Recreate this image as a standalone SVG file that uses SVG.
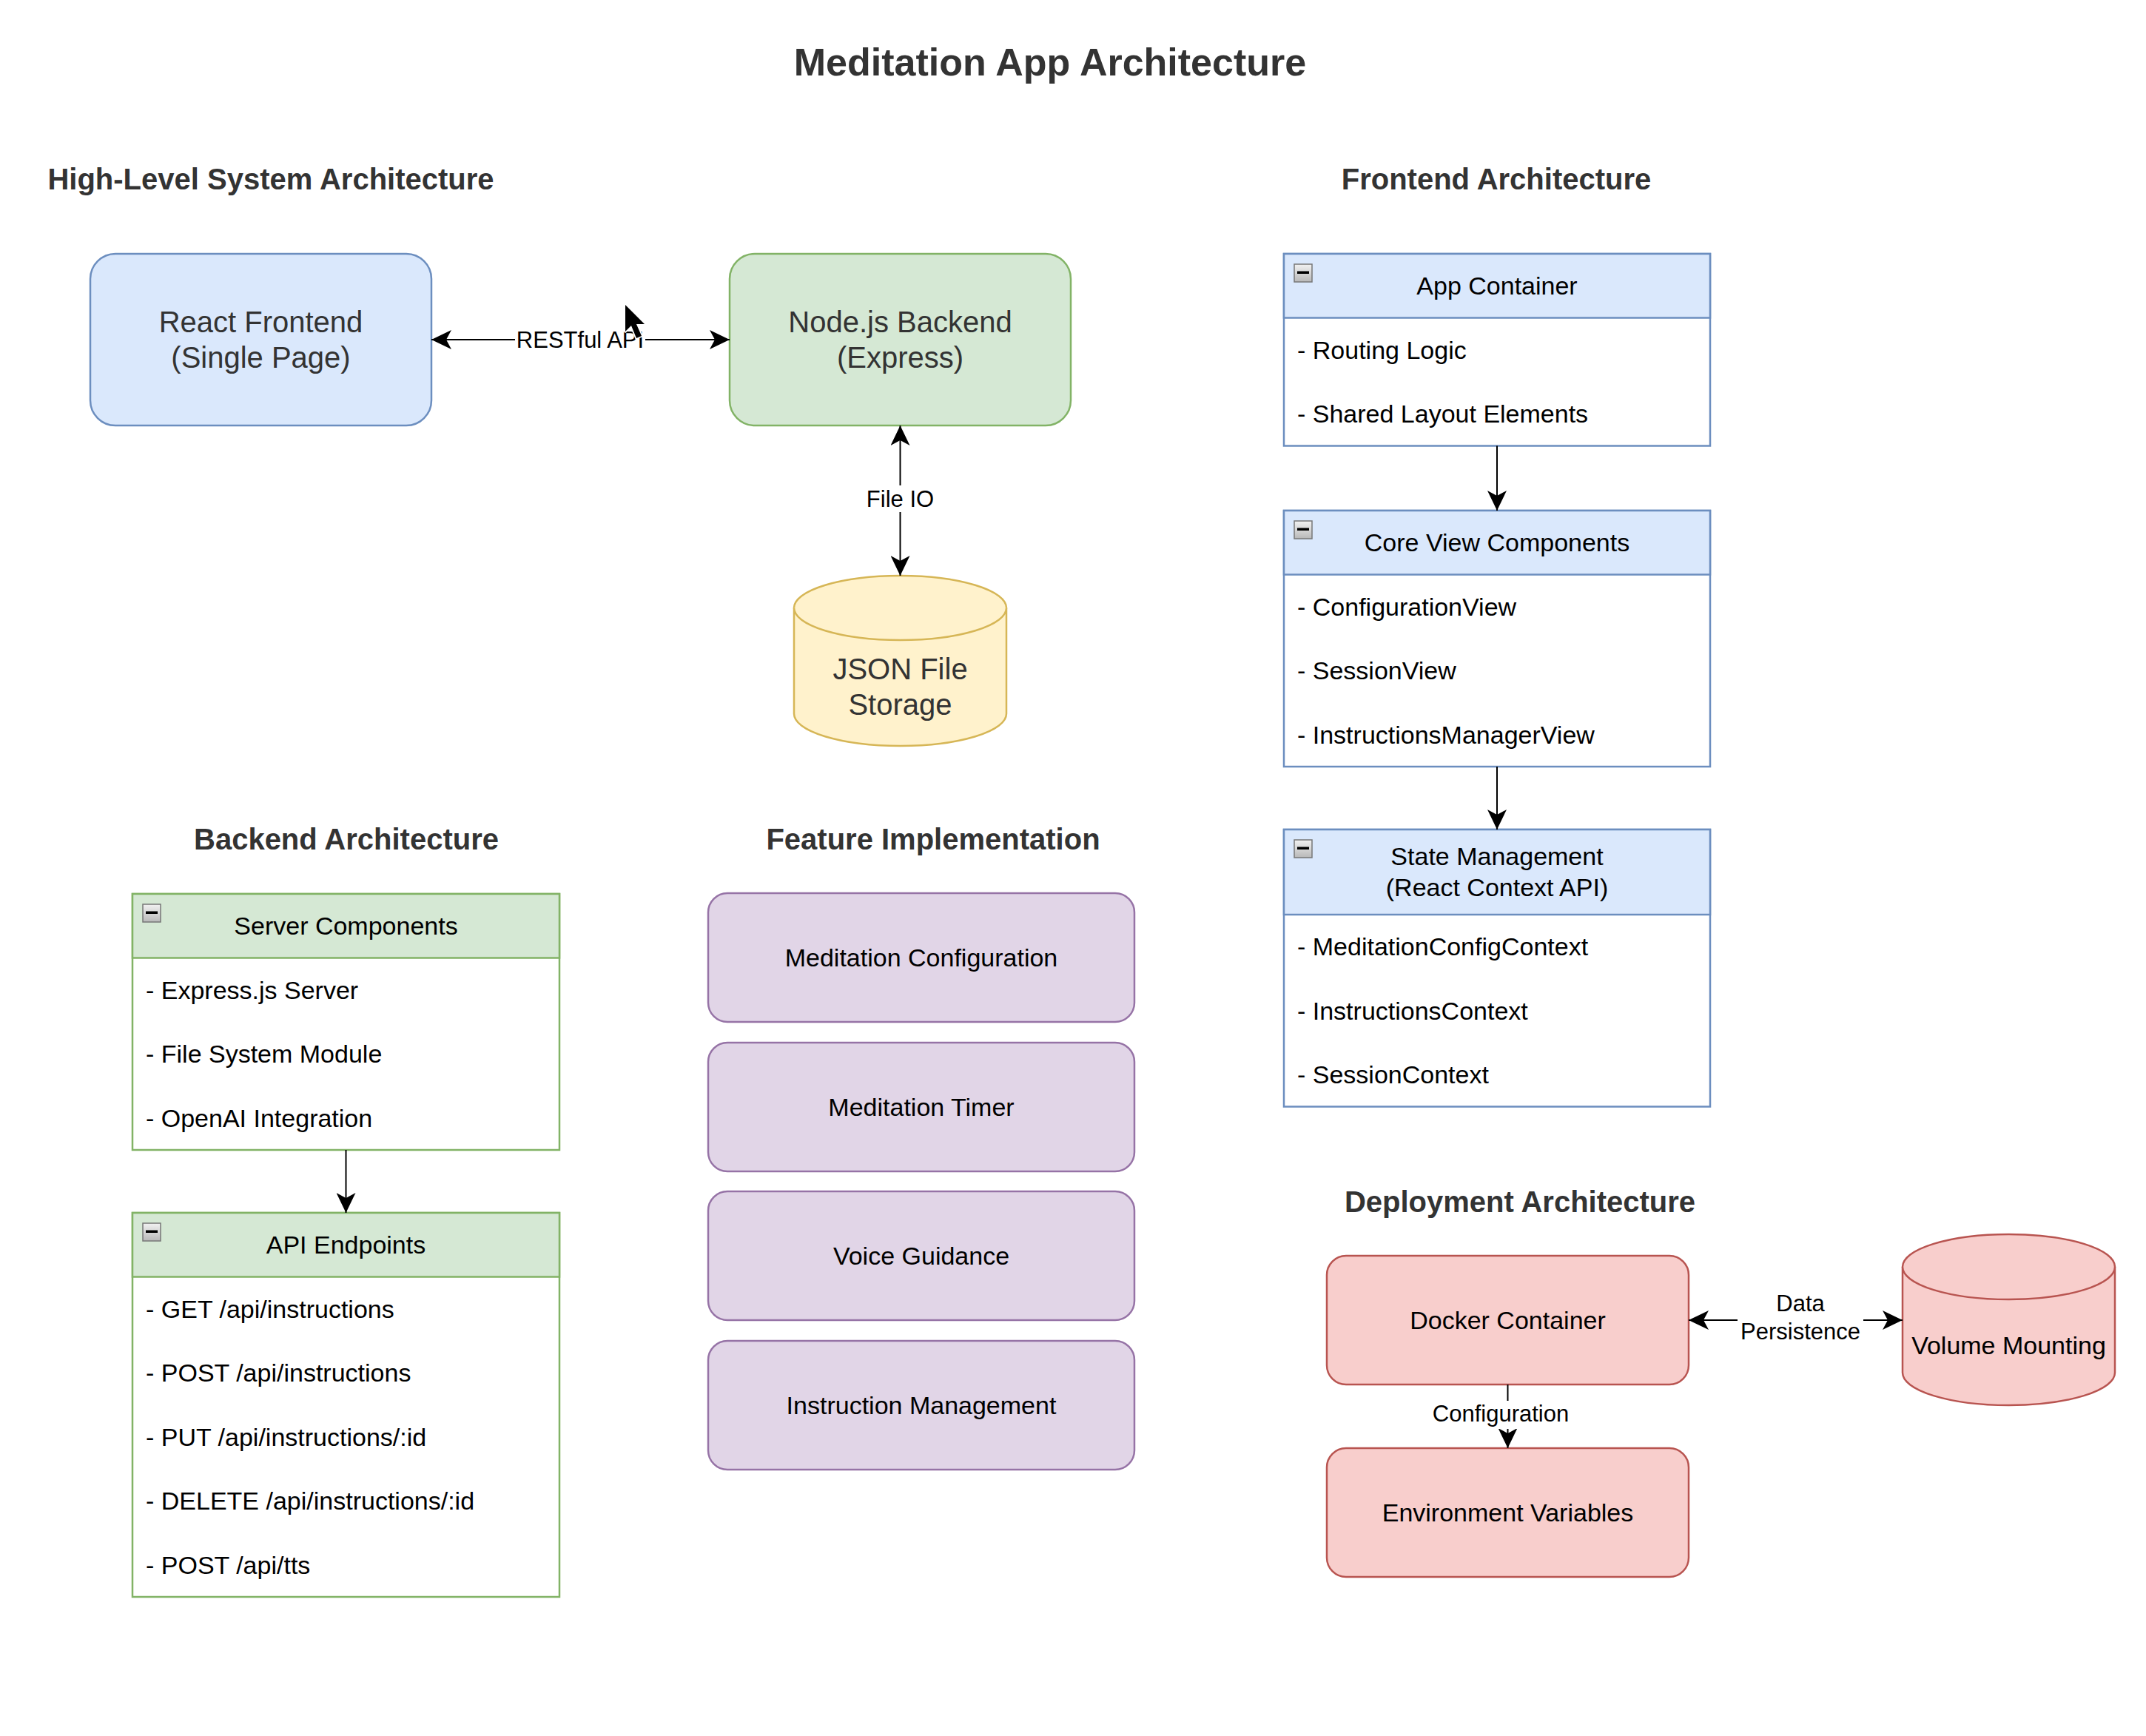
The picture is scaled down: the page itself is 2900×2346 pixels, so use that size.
<svg xmlns="http://www.w3.org/2000/svg" width="2900" height="2346" viewBox="0 0 2900 2346">
<style>
text{font-family:"Liberation Sans",Arial,Helvetica,sans-serif}
.title{font-size:52px;font-weight:bold;fill:#333}
.h{font-size:40px;font-weight:bold;fill:#333}
.big{font-size:40px;fill:#333}
.n{font-size:34px;fill:#000}
.lbl{font-size:31px;fill:#000}
.c{text-anchor:middle}
.edge{stroke:#000;stroke-width:2;fill:none}
.bg{fill:#fff}
.blue{fill:#dae8fc;stroke:#6c8ebf;stroke-width:2.5}
.green{fill:#d5e8d4;stroke:#82b366;stroke-width:2.5}
.yellow{fill:#fff2cc;stroke:#d6b656;stroke-width:2.5}
.purple{fill:#e1d5e7;stroke:#9673a6;stroke-width:2.5}
.red{fill:#f8cecc;stroke:#b85450;stroke-width:2.5}
.bluebody{fill:#fff;stroke:#6c8ebf;stroke-width:2.5}
.greenbody{fill:#fff;stroke:#82b366;stroke-width:2.5}
</style>
<defs>
<marker id="arr" viewBox="0 0 28 26" refX="27" refY="13" markerWidth="28" markerHeight="26" markerUnits="userSpaceOnUse" orient="auto-start-reverse">
<path d="M0,0 L27,13 L0,26 L7,13 Z" fill="#000"/>
</marker>
<linearGradient id="btn" x1="0" y1="0" x2="0" y2="1">
<stop offset="0" stop-color="#f2f2f2"/>
<stop offset="1" stop-color="#b8b8b8"/>
</linearGradient>
<g id="minus">
<rect x="0" y="0" width="24" height="24" fill="url(#btn)" stroke="#777" stroke-width="1.5"/>
<rect x="4" y="9.5" width="16" height="3.5" fill="#000"/>
</g>
</defs>
<rect width="2900" height="2346" fill="#fff"/>

<text class="title c" x="1419" y="102">Meditation App Architecture</text>
<text class="h c" x="366" y="256">High-Level System Architecture</text>
<text class="h c" x="2022" y="256">Frontend Architecture</text>
<text class="h c" x="468" y="1148">Backend Architecture</text>
<text class="h c" x="1261" y="1148">Feature Implementation</text>
<text class="h c" x="2054" y="1638">Deployment Architecture</text>

<g id="react-frontend">
<rect class="blue" x="122" y="343" width="461" height="232" rx="34" ry="34"/>
<text class="big c" x="352.5" y="449">React Frontend</text>
<text class="big c" x="352.5" y="497">(Single Page)</text>
</g>
<g id="node-backend">
<rect class="green" x="986" y="343" width="461" height="232" rx="34" ry="34"/>
<text class="big c" x="1216.5" y="449">Node.js Backend</text>
<text class="big c" x="1216.5" y="497">(Express)</text>
</g>
<g id="json-storage">
<path class="yellow" d="M1073,821.5 A143.5,43.5 0 0 1 1360,821.5 L1360,964.5 A143.5,43.5 0 0 1 1073,964.5 Z"/>
<path class="yellow" d="M1073,821.5 A143.5,43.5 0 0 0 1360,821.5" fill="none"/>
<text class="big c" x="1216.5" y="918">JSON File</text>
<text class="big c" x="1216.5" y="966">Storage</text>
</g>

<g id="app-container">
<rect class="bluebody" x="1735" y="343" width="576" height="259.5"/>
<rect class="blue" x="1735" y="343" width="576" height="86.5"/>
<use href="#minus" x="1749" y="357"/>
<text class="n c" x="2023" y="398">App Container</text>
<text class="n" x="1753" y="485">- Routing Logic</text>
<text class="n" x="1753" y="571">- Shared Layout Elements</text>
</g>
<g id="core-view-components">
<rect class="bluebody" x="1735" y="690" width="576" height="346"/>
<rect class="blue" x="1735" y="690" width="576" height="86.5"/>
<use href="#minus" x="1749" y="704"/>
<text class="n c" x="2023" y="745">Core View Components</text>
<text class="n" x="1753" y="832">- ConfigurationView</text>
<text class="n" x="1753" y="918">- SessionView</text>
<text class="n" x="1753" y="1005">- InstructionsManagerView</text>
</g>
<g id="state-management">
<rect class="bluebody" x="1735" y="1121" width="576" height="374.5"/>
<rect class="blue" x="1735" y="1121" width="576" height="115"/>
<use href="#minus" x="1749" y="1135"/>
<text class="n c" x="2023" y="1169">State Management</text>
<text class="n c" x="2023" y="1211">(React Context API)</text>
<text class="n" x="1753" y="1291">- MeditationConfigContext</text>
<text class="n" x="1753" y="1378">- InstructionsContext</text>
<text class="n" x="1753" y="1464">- SessionContext</text>
</g>

<g id="server-components">
<rect class="greenbody" x="179" y="1208" width="577" height="346"/>
<rect class="green" x="179" y="1208" width="577" height="86.5"/>
<use href="#minus" x="193" y="1222"/>
<text class="n c" x="467.5" y="1263">Server Components</text>
<text class="n" x="197" y="1350">- Express.js Server</text>
<text class="n" x="197" y="1436">- File System Module</text>
<text class="n" x="197" y="1523">- OpenAI Integration</text>
</g>
<g id="api-endpoints">
<rect class="greenbody" x="179" y="1639" width="577" height="519"/>
<rect class="green" x="179" y="1639" width="577" height="86.5"/>
<use href="#minus" x="193" y="1653"/>
<text class="n c" x="467.5" y="1694">API Endpoints</text>
<text class="n" x="197" y="1781">- GET /api/instructions</text>
<text class="n" x="197" y="1867">- POST /api/instructions</text>
<text class="n" x="197" y="1954">- PUT /api/instructions/:id</text>
<text class="n" x="197" y="2040">- DELETE /api/instructions/:id</text>
<text class="n" x="197" y="2127">- POST /api/tts</text>
</g>

<g id="meditation-configuration">
<rect class="purple" x="957" y="1207" width="576" height="174" rx="26" ry="26"/>
<text class="n c" x="1245" y="1306">Meditation Configuration</text>
</g>
<g id="meditation-timer">
<rect class="purple" x="957" y="1409" width="576" height="174" rx="26" ry="26"/>
<text class="n c" x="1245" y="1508">Meditation Timer</text>
</g>
<g id="voice-guidance">
<rect class="purple" x="957" y="1610" width="576" height="174" rx="26" ry="26"/>
<text class="n c" x="1245" y="1709">Voice Guidance</text>
</g>
<g id="instruction-management">
<rect class="purple" x="957" y="1812" width="576" height="174" rx="26" ry="26"/>
<text class="n c" x="1245" y="1911">Instruction Management</text>
</g>

<g id="docker-container">
<rect class="red" x="1793" y="1697" width="489" height="174" rx="26" ry="26"/>
<text class="n c" x="2037.5" y="1796">Docker Container</text>
</g>
<g id="environment-variables">
<rect class="red" x="1793" y="1957" width="489" height="174" rx="26" ry="26"/>
<text class="n c" x="2037.5" y="2056">Environment Variables</text>
</g>
<g id="volume-mounting">
<path class="red" d="M2571,1712 A143.5,44 0 0 1 2858,1712 L2858,1855 A143.5,44 0 0 1 2571,1855 Z"/>
<path class="red" d="M2571,1712 A143.5,44 0 0 0 2858,1712" fill="none"/>
<text class="n c" x="2714.5" y="1830">Volume Mounting</text>
</g>

<g id="connectors">
<line class="edge" x1="583" y1="459" x2="986" y2="459" marker-start="url(#arr)" marker-end="url(#arr)"/>
<rect class="bg" x="696" y="441" width="176" height="36"/>
<text class="lbl c" x="784" y="470">RESTful API</text>

<line class="edge" x1="1216.5" y1="575" x2="1216.5" y2="778" marker-start="url(#arr)" marker-end="url(#arr)"/>
<rect class="bg" x="1169" y="656" width="95" height="36"/>
<text class="lbl c" x="1216.5" y="685">File IO</text>

<line class="edge" x1="2023" y1="602.5" x2="2023" y2="690" marker-end="url(#arr)"/>
<line class="edge" x1="2023" y1="1036" x2="2023" y2="1121" marker-end="url(#arr)"/>
<line class="edge" x1="467.5" y1="1554" x2="467.5" y2="1639" marker-end="url(#arr)"/>

<line class="edge" x1="2282" y1="1784" x2="2571" y2="1784" marker-start="url(#arr)" marker-end="url(#arr)"/>
<rect class="bg" x="2348" y="1750" width="170" height="72"/>
<text class="lbl c" x="2433" y="1772">Data</text>
<text class="lbl c" x="2433" y="1810">Persistence</text>

<line class="edge" x1="2037.5" y1="1871" x2="2037.5" y2="1957" marker-end="url(#arr)"/>
<rect class="bg" x="1932" y="1893" width="193" height="38"/>
<text class="lbl c" x="2028" y="1921">Configuration</text>
</g>

<g id="cursor">
<path d="M845,412 L845,448 L853,440 L860,457 L867,454 L860,438 L871,438 Z" fill="#000" stroke="#fff" stroke-width="3.5" stroke-linejoin="round" paint-order="stroke"/>
</g>
</svg>
